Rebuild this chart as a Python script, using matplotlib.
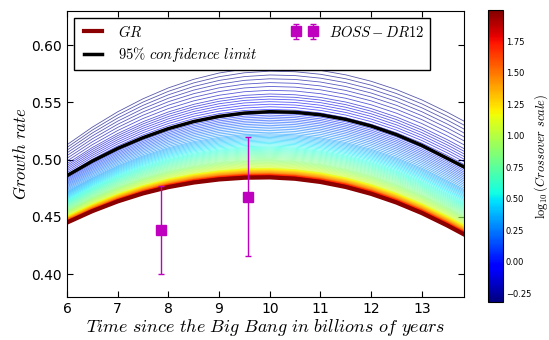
import numpy as np
import matplotlib
matplotlib.use('Agg')
import matplotlib.pyplot as plt
from matplotlib import cm, colors

plt.rcParams['mathtext.fontset'] = 'cm'
plt.rcParams['xtick.direction'] = 'in'
plt.rcParams['ytick.direction'] = 'in'
plt.rcParams['xtick.top'] = True
plt.rcParams['ytick.right'] = True

## DATA
# time since the big bang (Gyr)
t = [6.0, 6.5, 7.0, 7.5, 8.0, 8.5, 9.0, 9.5, 10.0, 10.5, 11.0, 11.5, 12.0, 12.5, 13.0, 13.5, 13.83]
# GR growth rate
f_gr = [0.4450, 0.4550, 0.4635, 0.4705, 0.4760, 0.4800, 0.4827, 0.4842, 0.4845, 0.4833,
        0.4805, 0.4761, 0.4701, 0.4625, 0.4533, 0.4425, 0.4347]
# smallest crossover scale (top curve)
f_top = [0.5130, 0.5284, 0.5418, 0.5532, 0.5627, 0.5702, 0.5757, 0.5792, 0.5807, 0.5802,
         0.5780, 0.5741, 0.5685, 0.5612, 0.5522, 0.5415, 0.5337]
# 95% confidence limit
f_95 = [0.4860, 0.4987, 0.5098, 0.5192, 0.5271, 0.5333, 0.5378, 0.5407, 0.5419, 0.5414,
        0.5392, 0.5352, 0.5294, 0.5218, 0.5124, 0.5012, 0.4937]

# fraction of the top-curve deviation reached for a given log10(crossover scale)
log_rc_knots = [-0.32, -0.16, 0.0, 0.3, 0.55, 0.85, 1.1, 1.5, 2.0]
dev_frac_knots = [1.0, 0.76, 0.6, 0.40, 0.28, 0.16, 0.085, 0.035, 0.0]
log_rc = np.linspace(-0.32, 2.0, 101)

# BOSS DR12 measurements
t_boss = [7.85, 9.57]
f_boss = [0.4385, 0.4675]
err_boss = [0.0385, 0.052]

## PLOT
fig = plt.figure(figsize=(5.49, 3.40), dpi=100)
ax = fig.add_axes([0.122, 0.1265, 0.723, 0.8415])
cax = fig.add_axes([0.889, 0.112, 0.0273, 0.859])

t = np.array(t); f_gr = np.array(f_gr); f_top = np.array(f_top)
norm = colors.Normalize(vmin=-0.32, vmax=2.0)
cmap = cm.jet
dev = np.interp(log_rc, log_rc_knots, dev_frac_knots)
for lr, d in zip(log_rc, dev):
    ax.plot(t, f_gr + d*(f_top - f_gr), color=cmap(norm(lr)), lw=0.6, alpha=0.65)

ax.plot(t, f_gr, color='darkred', lw=3, label=r'$GR$')
ax.plot(t, f_95, color='k', lw=2.5, label=r'$95\%\ confidence\ limit$')
ax.errorbar(t_boss, f_boss, yerr=err_boss, fmt='s', color='m', ms=7, mec='m',
            elinewidth=1, capsize=2, label=r'$BOSS-DR12$', zorder=5)

ax.set_xlim(6, 13.83)
ax.set_ylim(0.38, 0.63)
ax.set_xticks(np.arange(6, 14))
ax.set_yticks([0.40, 0.45, 0.50, 0.55, 0.60])
ax.tick_params(labelsize=10, length=4)
ax.set_xlabel(r'$Time\ since\ the\ Big\ Bang\ in\ billions\ of\ years$', fontsize=13, labelpad=1)
ax.set_ylabel(r'$Growth\ rate$', fontsize=12, labelpad=1)

ax.legend(loc='upper left', bbox_to_anchor=(0.018, 0.976), ncol=2, fontsize=10.5,
          numpoints=2, handlelength=1.8, columnspacing=2.3, labelspacing=0.35,
          fancybox=False, edgecolor='k', framealpha=1, borderaxespad=0)

sm = cm.ScalarMappable(norm=norm, cmap=cmap)
cb = fig.colorbar(sm, cax=cax, ticks=np.arange(-0.25, 2.0, 0.25))
cb.ax.tick_params(labelsize=6, direction='in', length=0, pad=2)
cb.set_label(r'$\log_{10}(Crossover\ scale)$', fontsize=9, labelpad=1)

fig.savefig('out.png', dpi=100)
